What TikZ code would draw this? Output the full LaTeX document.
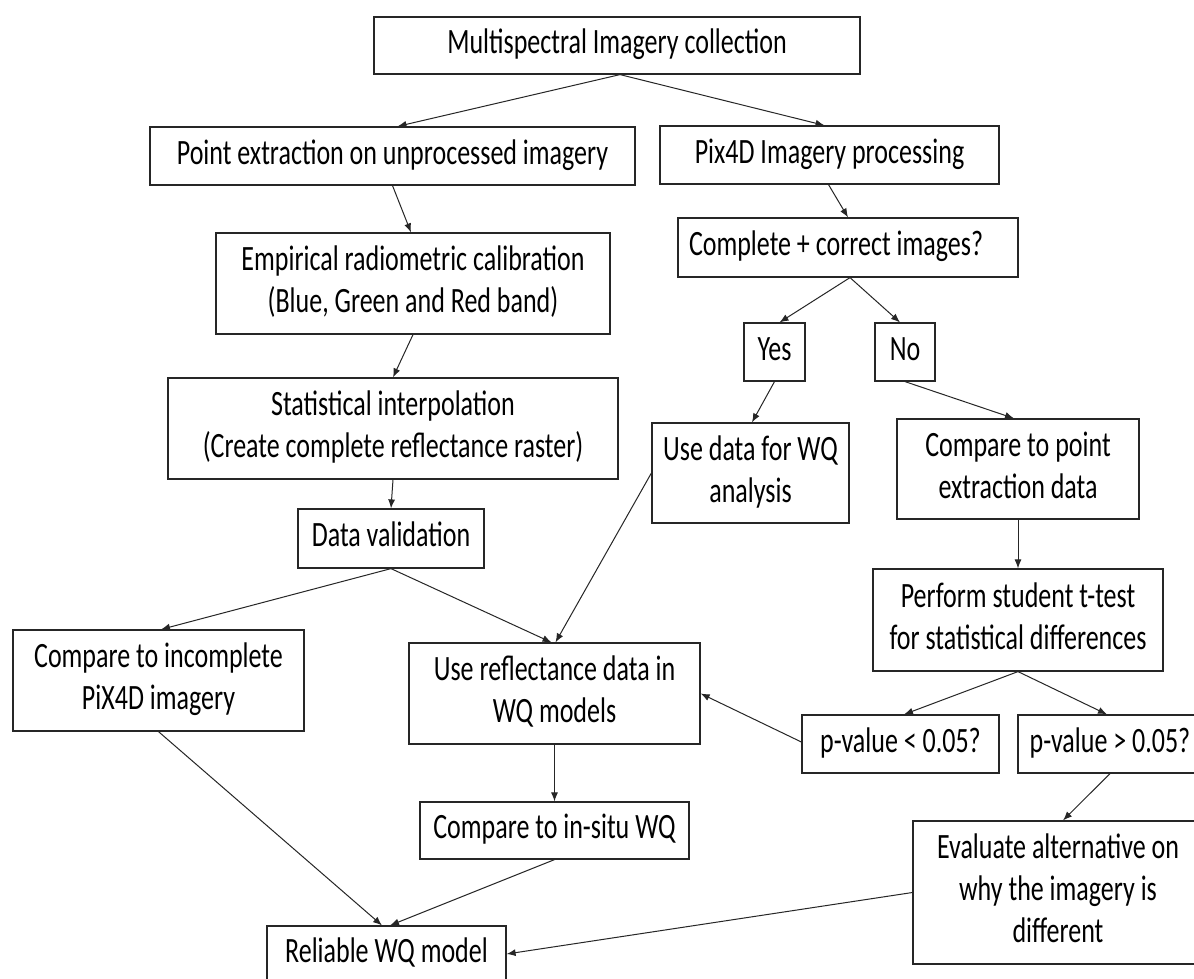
\documentclass[tikz,border=0pt]{standalone}
\usepackage{fontspec}
\setmainfont{Carlito}
\usepackage{graphicx}
\usetikzlibrary{arrows.meta}
\newcommand{\tx}[1]{\scalebox{1}[1.37]{\begin{tabular}{@{}c@{}}#1\end{tabular}}}
\begin{document}
\begin{tikzpicture}[x=1pt,y=-1pt,
  box/.style={draw=black!85, line width=1.2pt, inner sep=0pt, fill=white,
    font=\fontsize{26}{30.7}\selectfont},
  sz/.style 2 args={minimum width=#1pt, minimum height=#2pt},
  arr/.style={draw=black!85, line width=1pt, -{Latex[length=9pt,width=7pt]}}]
\useasboundingbox (0,0) rectangle (1194,978);
\clip (0,0) rectangle (1194,978);
\fill[white] (0,0) rectangle (1194,978);

\node[box, sz={486}{57}]  (top)  at (617,45.5)  {\tx{Multispectral Imagery collection}};
\node[box, sz={485}{58}]  (pe)   at (392.5,156) {\tx{Point extraction on unprocessed imagery}};
\node[box, sz={339}{58}]  (pix)  at (829.5,155) {\tx{Pix4D Imagery processing}};
\node[box, sz={394}{101}] (emp)  at (413,283.5) {\tx{Empirical radiometric calibration\\(Blue, Green and Red band)}};
\node[box, sz={340}{59}]  (comp) at (848,247.5) {\tx{Complete + correct images?}\hspace*{24pt}};
\node[box, sz={61}{58}]   (yes)  at (774.5,352) {\tx{Yes}};
\node[box, sz={60}{58}]   (no)   at (905,352)   {\tx{No}};
\node[box, sz={450}{101}] (stat) at (393,428.5) {\tx{Statistical interpolation\\(Create complete reflectance raster)}};
\node[box, sz={197}{100}] (use)  at (750.5,473) {\tx{Use data for WQ\\analysis}};
\node[box, sz={242}{100}] (cpt)  at (1018,469)  {\tx{Compare to point\\extraction data}};
\node[box, sz={186}{59}]  (dv)   at (391,538.5) {\tx{Data validation}};
\node[box, sz={290}{102}] (perf) at (1018,620)  {\tx{Perform student t-test\\for statistical differences}};
\node[box, sz={291}{101}] (cinc) at (158.5,680.5) {\tx{Compare to incomplete\\PiX4D imagery}};
\node[box, sz={291}{101}] (refl) at (554.5,693.5) {\tx{Use reflectance data in\\WQ models}};
\node[box, sz={197}{58}]  (plt)  at (900.5,744) {\tx{p-value < 0.05?}};
\node[box, sz={184}{58}]  (pgt)  at (1110,744)  {\tx{p-value > 0.05?}};
\node[box, sz={290}{143}] (eval) at (1058,892.5) {\tx{Evaluate alternative on\\why the imagery is\\different}};
\node[box, sz={269}{57}]  (ins)  at (554.5,830.5) {\tx{Compare to in-situ WQ}};
\node[box, sz={239}{56}]  (rel)  at (386.5,954) {\tx{Reliable WQ model}};

\draw[arr] ([xshift=3pt]top.south) -- ([xshift=5pt]pe.north);
\draw[arr] ([xshift=3pt]top.south) -- ([xshift=-5pt]pix.north);
\draw[arr] (pe.south) -- ([xshift=-2pt]emp.north);
\draw[arr] ([xshift=-1pt]pix.south) -- (comp.north);
\draw[arr] ([xshift=2pt]comp.south) -- ([xshift=5pt]yes.north);
\draw[arr] ([xshift=2pt]comp.south) -- ([xshift=-5pt]no.north);
\draw[arr] (yes.south) -- ([xshift=1.5pt]use.north);
\draw[arr] (no.south) -- ([xshift=-4pt]cpt.north);
\draw[arr] (cpt.south) -- (perf.north);
\draw[arr] (emp.south) -- (stat.north);
\draw[arr] (stat.south) -- (dv.north);
\draw[arr] (dv.south) -- ([xshift=2.5pt]cinc.north);
\draw[arr] (dv.south) -- ([xshift=-3pt]refl.north);
\draw[arr] (use.west) -- ([xshift=1pt]refl.north);
\draw[arr] (perf.south) -- ([xshift=3.5pt]plt.north);
\draw[arr] (perf.south) -- ([xshift=-3pt]pgt.north);
\draw[arr] ([yshift=2pt]plt.west) -- (refl.east);
\draw[arr] (refl.south) -- (ins.north);
\draw[arr] (ins.south) -- ([xshift=3.5pt]rel.north);
\draw[arr] (cinc.south) -- ([xshift=-4.5pt]rel.north);
\draw[arr] (pgt.south) -- ([xshift=5pt]eval.north);
\draw[arr] (eval.west) -- (rel.east);
\end{tikzpicture}
\end{document}
